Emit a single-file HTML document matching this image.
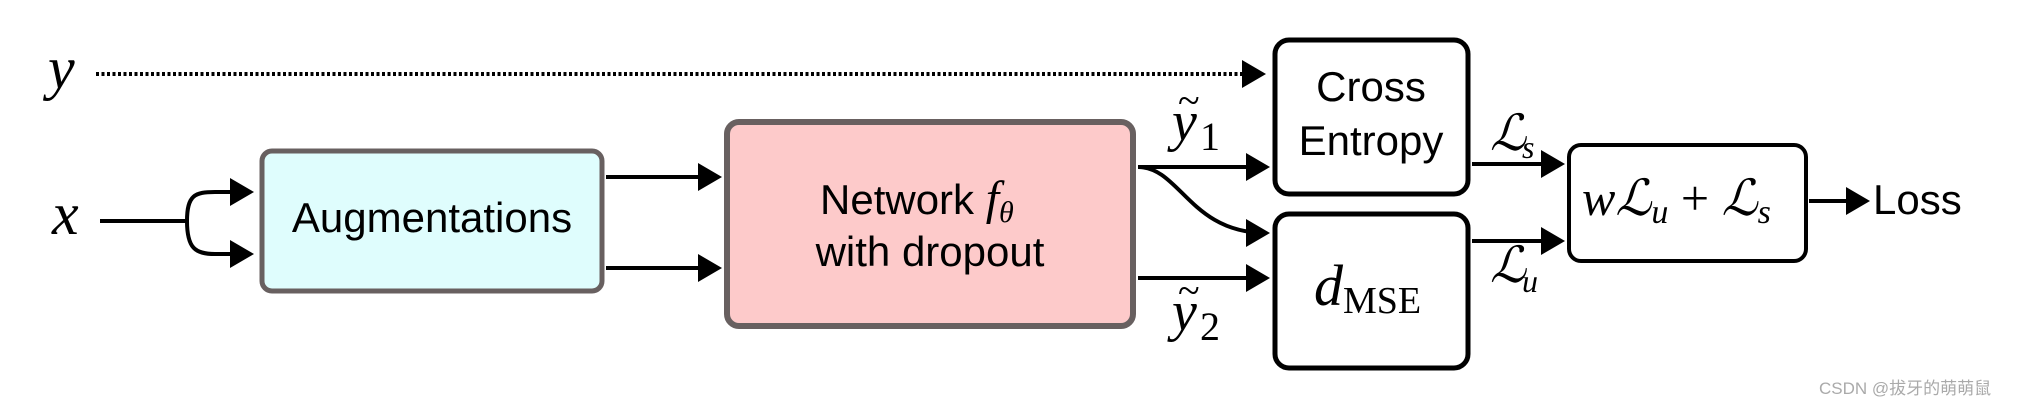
<!DOCTYPE html>
<html><head><meta charset="utf-8"><style>
html,body{margin:0;padding:0;background:#fff;}
svg{display:block;}
.s{font-family:"Liberation Sans",sans-serif;font-size:42px;fill:#000;}
.m{font-family:"Liberation Serif",serif;font-style:italic;fill:#000;}
.r{font-family:"Liberation Serif",serif;fill:#000;}
</style></head><body>
<svg width="2024" height="404" viewBox="0 0 2024 404" xmlns="http://www.w3.org/2000/svg">
<defs><marker id="a" markerWidth="6" markerHeight="7" refX="5" refY="3.5" orient="auto" markerUnits="strokeWidth"><path d="M0,0 L6,3.5 L0,7 z" fill="#000"/></marker></defs>
<g stroke="#000" stroke-width="4" fill="none">
<line x1="96" y1="74" x2="1262" y2="74" stroke-dasharray="3,2.5" marker-end="url(#a)"/>
<line x1="100" y1="221" x2="187" y2="221"/>
<path d="M187,221 C187,195 195,192 215,192 L250,192" marker-end="url(#a)"/>
<path d="M187,221 C187,248 195,254 215,254 L250,254" marker-end="url(#a)"/>
<line x1="606" y1="177" x2="718" y2="177" marker-end="url(#a)"/>
<line x1="606" y1="268" x2="718" y2="268" marker-end="url(#a)"/>
<line x1="1138" y1="167" x2="1266" y2="167" marker-end="url(#a)"/>
<path d="M1138,167 C1180,167 1190,233 1266,233" marker-end="url(#a)"/>
<line x1="1138" y1="278" x2="1266" y2="278" marker-end="url(#a)"/>
<line x1="1472" y1="164" x2="1561" y2="164" marker-end="url(#a)"/>
<line x1="1472" y1="241" x2="1561" y2="241" marker-end="url(#a)"/>
<line x1="1809" y1="201" x2="1866" y2="201" marker-end="url(#a)"/>
</g>
<rect x="262" y="151" width="340" height="140" rx="10" fill="#dffdfd" stroke="#686060" stroke-width="5"/>
<rect x="727" y="122" width="406" height="204" rx="12" fill="#fdcaca" stroke="#686060" stroke-width="6"/>
<rect x="1275" y="40" width="193" height="154" rx="14" fill="#fff" stroke="#000" stroke-width="5"/>
<rect x="1275" y="214" width="193" height="154" rx="14" fill="#fff" stroke="#000" stroke-width="5"/>
<rect x="1569" y="145" width="237" height="116" rx="12" fill="#fff" stroke="#000" stroke-width="4"/>
<text class="m" x="48" y="88" font-size="60">y</text>
<text class="m" x="52" y="234" font-size="60">x</text>
<text class="s" x="432" y="232" text-anchor="middle">Augmentations</text>
<text class="s" x="820" y="214">Network <tspan class="m" font-size="48">f</tspan><tspan class="m" font-size="30" dy="8">θ</tspan></text>
<text class="s" x="930" y="266" text-anchor="middle">with dropout</text>
<text class="m" x="1172" y="140" font-size="56">y</text><text class="r" x="1200" y="150" font-size="40">1</text><text class="r" x="1178" y="114" font-size="40">~</text>
<text class="m" x="1172" y="330" font-size="56">y</text><text class="r" x="1200" y="340" font-size="40">2</text><text class="r" x="1178" y="304" font-size="40">~</text>
<text class="s" x="1371" y="101" text-anchor="middle">Cross</text>
<text class="s" x="1371" y="155" text-anchor="middle">Entropy</text>
<text class="m" x="1314" y="305" font-size="58">d</text><text class="r" x="1343" y="313" font-size="38">MSE</text>
<text class="m" x="1490" y="150" font-size="50">ℒ</text><text class="m" x="1522" y="158" font-size="32">s</text>
<text class="m" x="1490" y="282" font-size="50">ℒ</text><text class="m" x="1522" y="292" font-size="32">u</text>
<text class="m" x="1582" y="215" font-size="50">wℒ<tspan font-size="34" dy="8">u</tspan><tspan class="r" font-style="normal" font-size="50" dy="-8"> + </tspan>ℒ<tspan font-size="34" dy="8">s</tspan></text>
<text class="s" x="1873" y="214">Loss</text>
<text x="1819" y="394" font-family="'Liberation Sans','Noto Sans CJK SC',sans-serif" font-size="17" fill="#aaa">CSDN @拔牙的萌萌鼠</text>
</svg>
</body></html>
